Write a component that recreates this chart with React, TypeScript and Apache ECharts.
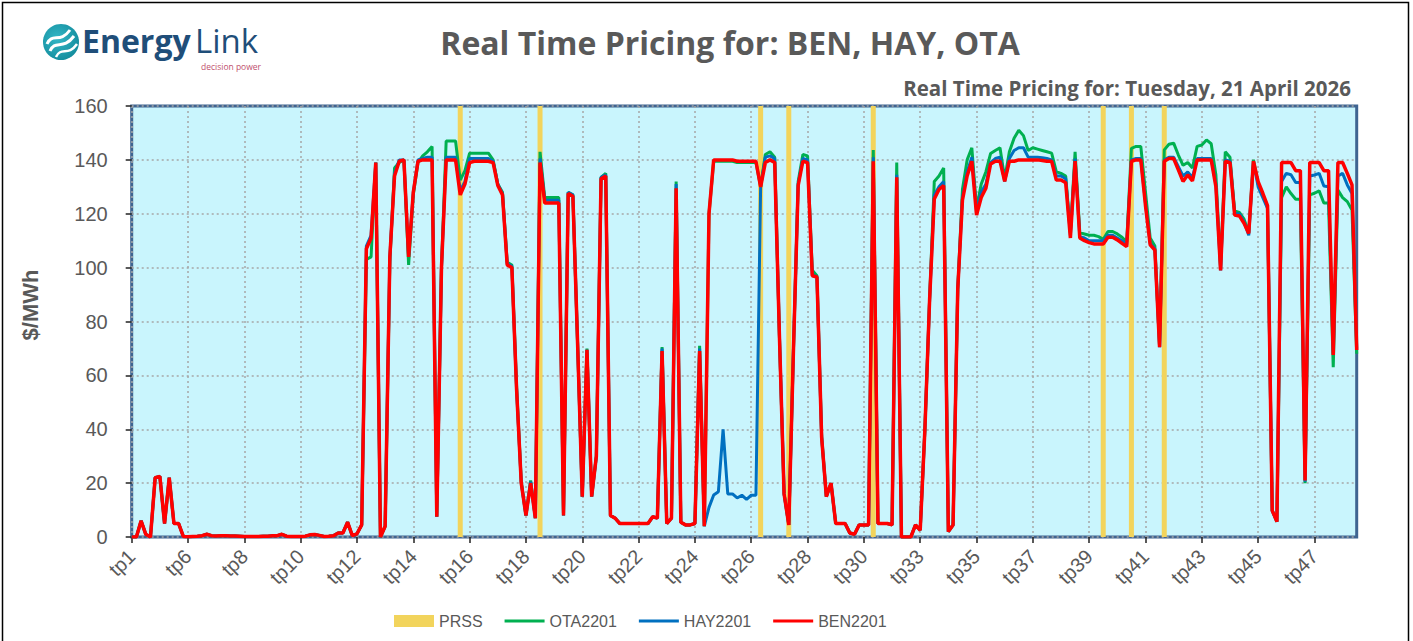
import React, { useEffect, useRef } from "react";
import * as echarts from "echarts";

// ---------------- DATA ----------------
const tickLabels = [
  "tp1", "tp6", "tp8", "tp10", "tp12", "tp14", "tp16", "tp18", "tp20", "tp22", "tp24",
  "tp26", "tp28", "tp30", "tp33", "tp35", "tp37", "tp39", "tp41", "tp43", "tp45", "tp47",
];
const POINTS_PER_LABEL = 12;

const BEN2201 = [
  0, 0, 6, 1, 0, 22, 22.5, 5, 22, 5, 5, 0.2,
  0.1, 0.2, 0.3, 0.5, 1, 0.5, 0.4, 0.5, 0.5, 0.4, 0.4, 0.3,
  0.2, 0.2, 0.2, 0.2, 0.3, 0.3, 0.5, 0.5, 1, 0.3, 0.2, 0.2,
  0.2, 0.3, 0.8, 0.9, 0.6, 0.2, 0.3, 0.5, 1.5, 1.5, 5.5, 0.5,
  1.2, 4.5, 107, 111, 139, 0, 4, 104, 134, 139.5, 140, 104,
  128, 139.5, 140, 140, 140, 7.5, 100, 140, 140, 140, 127, 131,
  139, 139.5, 139.5, 139.5, 139.5, 139, 130.5, 127, 101, 100, 55, 20,
  8, 20, 7, 139, 124, 124, 124, 124, 8, 127.5, 126.5, 72,
  15, 69.5, 15, 30, 133, 134, 8, 7, 5, 5, 5, 5,
  5, 5, 5, 7.5, 7, 69, 5, 7, 129.5, 5.5, 4.5, 4.5,
  5, 69, 4, 120, 140, 140, 140, 140, 140, 139.5, 139.5, 139.5,
  139.5, 139.5, 130, 139, 140, 139, 75, 16, 4.5, 70, 130.5, 139.5,
  139, 97, 96.5, 37, 15, 20, 5, 5, 5, 1.5, 1, 4.5,
  4.5, 4.5, 139.5, 5, 5, 5, 4.5, 133.5, 0, 0, 0, 4.5,
  2.5, 40, 88, 125.5, 129, 130.5, 2, 4.5, 92, 125, 134, 139.5,
  119.5, 126, 129.5, 138.5, 139.5, 139.5, 132, 139.5, 139.5, 140, 140, 140,
  140, 140, 139.8, 139.5, 139.5, 132.5, 132.5, 131.5, 111, 139.5, 111, 110,
  109.3, 108.8, 108.8, 108.8, 111.3, 111.3, 110.3, 109, 107.8, 139.5, 140, 140,
  123, 108.5, 106.5, 70.5, 139.5, 140.5, 140.5, 136.3, 132, 134.4, 132.2, 140,
  140, 140, 140, 130, 99, 139.5, 139, 119.5, 119.2, 116.5, 112.7, 139.5,
  131.9, 127.6, 123, 9.8, 5.7, 139, 139, 139, 136, 136, 21, 139,
  139, 139, 136, 136, 67.6, 139, 139, 135, 130.7, 69.4,
];

const HAY2201 = [
  0, 0, 6, 1, 0, 22, 22.5, 5, 22, 5, 5, 0.2,
  0.1, 0.2, 0.3, 0.5, 1, 0.5, 0.4, 0.5, 0.5, 0.4, 0.4, 0.3,
  0.2, 0.2, 0.2, 0.2, 0.3, 0.3, 0.5, 0.5, 1, 0.3, 0.2, 0.2,
  0.2, 0.3, 0.8, 0.9, 0.6, 0.2, 0.3, 0.5, 1.5, 1.5, 5.5, 0.5,
  1.2, 4.5, 108, 112, 139, 0, 4, 104, 135, 140, 140, 104,
  128, 140, 140.5, 141, 141, 7.5, 100, 141, 141, 141, 128.5, 132,
  140.5, 140.5, 140.5, 140.5, 140.5, 139.5, 131, 127.5, 101.5, 100.5, 55, 20,
  8, 20.5, 7, 140.5, 125, 125, 125, 125, 8, 128, 127, 72,
  15, 69.5, 15, 30, 133.5, 134.5, 8, 7, 5, 5, 5, 5,
  5, 5, 5, 7.5, 7, 70, 5, 7, 131, 5.5, 4.5, 4.5,
  5, 70, 4, 11, 15.6, 16.8, 40, 16, 16, 14.5, 15.5, 14,
  15.5, 15.5, 130, 141, 141.5, 140.5, 75, 16, 4.5, 70, 131, 140.5,
  140, 97.5, 96.5, 37, 15, 20, 5, 5, 5, 1.5, 1, 4.5,
  4.5, 4.5, 141, 5, 5, 5, 4.5, 134.5, 0, 0, 0, 4.5,
  2.5, 40, 88, 127, 130, 132, 2, 4.5, 92, 126, 135.5, 141,
  121, 128, 131, 139, 140.5, 141, 132, 140.5, 143.5, 144.5, 144.5, 141,
  141, 141, 140.8, 140.5, 140, 134, 134, 133, 112, 140.5, 111.5, 111,
  110, 110, 110, 110, 112, 112, 111, 110, 108.5, 140, 140.5, 140.5,
  124, 109, 107, 70.5, 140, 141, 141, 137.5, 134, 135.5, 133.5, 140.5,
  140.5, 140.5, 140.5, 131, 99, 140, 139.5, 120, 120, 117, 112, 139.5,
  130, 126, 122, 9.8, 5.7, 132, 135, 134.5, 131.6, 131.6, 20.5, 134,
  134.4, 135, 130.3, 130, 68, 134, 135, 130.7, 127.5, 70,
];

const OTA2201 = [
  0, 0, 6, 1, 0, 22, 22.5, 5, 22, 5, 5, 0.2,
  0.1, 0.2, 0.3, 0.5, 1, 0.5, 0.4, 0.5, 0.5, 0.4, 0.4, 0.3,
  0.2, 0.2, 0.2, 0.2, 0.3, 0.3, 0.5, 0.5, 1, 0.3, 0.2, 0.2,
  0.2, 0.3, 0.8, 0.9, 0.6, 0.2, 0.3, 0.5, 1.5, 1.5, 5.5, 0.5,
  1.2, 4.5, 103, 104, 139, 0, 4, 102, 137, 139, 140, 101,
  127, 139, 141.5, 143, 145, 7.5, 100, 147, 147, 147, 132.5, 136,
  142.5, 142.5, 142.5, 142.5, 142.5, 140, 131, 128, 102, 101, 56, 20.5,
  8, 21, 7, 143, 126, 126, 126, 126, 8, 128, 127, 72,
  15, 70, 15, 30, 133.5, 135, 8, 7, 5, 5, 5, 5,
  5, 5, 5, 7.5, 7, 70.5, 5, 7, 132, 5.5, 4.5, 4.5,
  5, 71, 4, 120, 139.5, 139.5, 139.5, 139.5, 139.5, 139, 139, 139,
  139, 139, 130, 142, 143, 141, 75, 16, 4.5, 70, 132, 142,
  141.5, 99, 97, 37.5, 15, 20, 5, 5, 5, 1.5, 1, 4.5,
  4.5, 4.5, 143.7, 5, 5, 5, 4.5, 139, 0, 0, 0, 4.5,
  2.5, 40, 88, 132, 134, 137, 2, 4.5, 92, 129, 140, 144.5,
  122, 131, 135.6, 142.4, 143.5, 144.5, 133, 143, 148, 151, 149, 143.5,
  144.5, 144, 143.5, 143, 142.5, 135.6, 135, 134, 113, 143, 113, 112.5,
  112, 112, 111.5, 110.5, 113.4, 113.4, 112.5, 111.3, 109.5, 144.3, 145, 145,
  128, 111, 108, 70.7, 143.7, 145.8, 146.2, 141.8, 138, 139, 137, 145,
  145.5, 147.4, 146, 134.4, 100, 143, 141, 121, 120.5, 118, 113, 140,
  131, 127, 122.5, 9.8, 5.7, 126, 130, 127.5, 125.4, 125.4, 20, 127,
  127.6, 128.5, 124, 124, 63, 128.8, 126, 124.5, 121.4, 68,
];

// Indices of the intervals flagged with a PRSS
const prssPoints = [70, 87, 134, 140, 158, 207, 213, 220];
const PRSS_VALUE = 160;

// ---------------- BUILD ----------------
const categories = BEN2201.map((_, i) => {
  const base = tickLabels[Math.floor(i / POINTS_PER_LABEL)];
  return i % POINTS_PER_LABEL === 0 ? base : `${base}.${i % POINTS_PER_LABEL}`;
});
const prssData = categories.map((_, i) => (prssPoints.includes(i) ? PRSS_VALUE : null));

const GRAY = "#595959";
const TITLE_FONT = "'Open Sans', Lato, sans-serif";
const AXIS_FONT = "'Liberation Sans', Arial, sans-serif";
const LINE_ICON = "path://M0,0L0,0ZM0,12L0,12ZM0,4.5L40,4.5L40,7.5L0,7.5Z";

export default function App() {
  const ref = useRef<HTMLDivElement>(null);

  useEffect(() => {
    if (!ref.current) return;
    const chart = echarts.init(ref.current, null, { renderer: "svg" });

    const option: any = {
      animation: false,
      backgroundColor: "#ffffff",
      grid: {
        left: 131.7,
        right: 56.3,
        top: 106,
        bottom: 104,
        show: true,
        backgroundColor: "#C9F5FD",
        borderColor: "#3F6491",
        borderWidth: 3,
        containLabel: false,
      },
      legend: {
        left: 389,
        top: 608,
        itemWidth: 40,
        itemHeight: 12,
        itemGap: 22,
        textStyle: { fontFamily: AXIS_FONT, fontSize: 16, color: GRAY },
        data: [
          { name: "PRSS", icon: "rect" },
          { name: "OTA2201", icon: LINE_ICON },
          { name: "HAY2201", icon: LINE_ICON },
          { name: "BEN2201", icon: LINE_ICON },
        ],
      },
      xAxis: {
        type: "category",
        data: categories,
        boundaryGap: false,
        axisLine: { show: false },
        axisTick: {
          show: true,
          interval: POINTS_PER_LABEL - 1,
          length: 6,
          lineStyle: { color: "#222", width: 1.5 },
        },
        axisLabel: {
          show: true,
          interval: POINTS_PER_LABEL - 1,
          rotate: 45,
          fontFamily: AXIS_FONT,
          fontSize: 20,
          color: GRAY,
          margin: 16,
        },
        splitLine: {
          show: true,
          interval: POINTS_PER_LABEL - 1,
          lineStyle: { color: "#A6A6A6", type: [2, 3], width: 1.5 },
        },
      },
      yAxis: {
        type: "value",
        min: 0,
        max: 160,
        interval: 20,
        axisLine: { show: false },
        axisTick: { show: true, length: 6, lineStyle: { color: "#222", width: 1.5 } },
        axisLabel: {
          show: true,
          fontFamily: AXIS_FONT,
          fontSize: 20,
          color: GRAY,
          margin: 24,
        },
        splitLine: { show: true, lineStyle: { color: "#A6A6A6", type: [2, 3], width: 1.5 } },
      },
      series: [
        {
          name: "PRSS",
          type: "bar",
          data: prssData,
          barWidth: 5,
          itemStyle: { color: "#F2D45C" },
          z: 1,
        },
        {
          name: "OTA2201",
          type: "line",
          data: OTA2201,
          symbol: "none",
          lineStyle: { color: "#00B050", width: 3 },
          itemStyle: { color: "#00B050" },
          z: 2,
        },
        {
          name: "HAY2201",
          type: "line",
          data: HAY2201,
          symbol: "none",
          lineStyle: { color: "#0070C0", width: 3 },
          itemStyle: { color: "#0070C0" },
          z: 3,
        },
        {
          name: "BEN2201",
          type: "line",
          data: BEN2201,
          symbol: "none",
          lineStyle: { color: "#FF0000", width: 3.5 },
          itemStyle: { color: "#FF0000" },
          z: 4,
        },
      ],
      graphic: [
        {
          type: "rect",
          shape: { x: 2.5, y: 2.5, width: 1406, height: 700 },
          style: { fill: "none", stroke: "#000", lineWidth: 1.5 },
          silent: true,
        },
        // logo
        {
          type: "circle",
          shape: { cx: 61, cy: 42, r: 18 },
          style: {
            fill: new echarts.graphic.RadialGradient(0.4, 0.4, 0.7, [
              { offset: 0, color: "#31B7C6" },
              { offset: 1, color: "#12899A" },
            ]),
          },
        },
        {
          type: "bezierCurve",
          shape: { x1: 47, y1: 44, cpx1: 52, cpy1: 32, cpx2: 60, cpy2: 44, x2: 70, y2: 30 },
          style: { stroke: "#fff", lineWidth: 3, fill: "none" },
        },
        {
          type: "bezierCurve",
          shape: { x1: 50, y1: 51, cpx1: 55, cpy1: 39, cpx2: 63, cpy2: 51, x2: 74, y2: 36 },
          style: { stroke: "#fff", lineWidth: 3, fill: "none" },
        },
        {
          type: "bezierCurve",
          shape: { x1: 56, y1: 57, cpx1: 61, cpy1: 46, cpx2: 68, cpy2: 57, x2: 77, y2: 44 },
          style: { stroke: "#fff", lineWidth: 2.5, fill: "none" },
        },
        {
          type: "text",
          x: 82,
          y: 40,
          style: {
            text: "Energy",
            fontFamily: "'Open Sans', sans-serif",
            fontWeight: 700,
            fontSize: 32,
            lineHeight: 24,
            fill: "#1F4E79",
            textVerticalAlign: "middle",
          },
        },
        {
          type: "text",
          x: 195,
          y: 40,
          style: {
            text: "Link",
            fontFamily: "'Open Sans', sans-serif",
            fontWeight: 400,
            fontSize: 33,
            lineHeight: 24,
            fill: "#1F4E79",
            textVerticalAlign: "middle",
          },
        },
        {
          type: "text",
          x: 201,
          y: 66,
          style: {
            text: "decision power",
            fontFamily: "'Open Sans', sans-serif",
            fontSize: 8.5,
            lineHeight: 10,
            fill: "#C0506E",
            textVerticalAlign: "middle",
          },
        },
        // titles
        {
          type: "text",
          x: 730,
          y: 42,
          style: {
            text: "Real Time Pricing for: BEN, HAY, OTA",
            fontFamily: TITLE_FONT,
            fontWeight: "bold",
            fontSize: 32,
            fill: GRAY,
            textAlign: "center",
            textVerticalAlign: "middle",
          },
        },
        {
          type: "text",
          x: 1351,
          y: 88,
          style: {
            text: "Real Time Pricing for: Tuesday, 21 April 2026",
            fontFamily: TITLE_FONT,
            fontWeight: "bold",
            fontSize: 20.5,
            fill: GRAY,
            textAlign: "right",
            textVerticalAlign: "middle",
          },
        },
        {
          type: "text",
          x: 30,
          y: 305,
          rotation: Math.PI / 2,
          style: {
            text: "$/MWh",
            fontFamily: AXIS_FONT,
            fontWeight: "bold",
            fontSize: 22,
            fill: GRAY,
            textAlign: "center",
            textVerticalAlign: "middle",
          },
        },
      ],
    };

    chart.setOption(option);
    return () => chart.dispose();
  }, []);

  return (
    <div
      ref={ref}
      style={{ position: "absolute", left: 0, top: 0, width: 1413, height: 641, background: "#fff" }}
    />
  );
}
